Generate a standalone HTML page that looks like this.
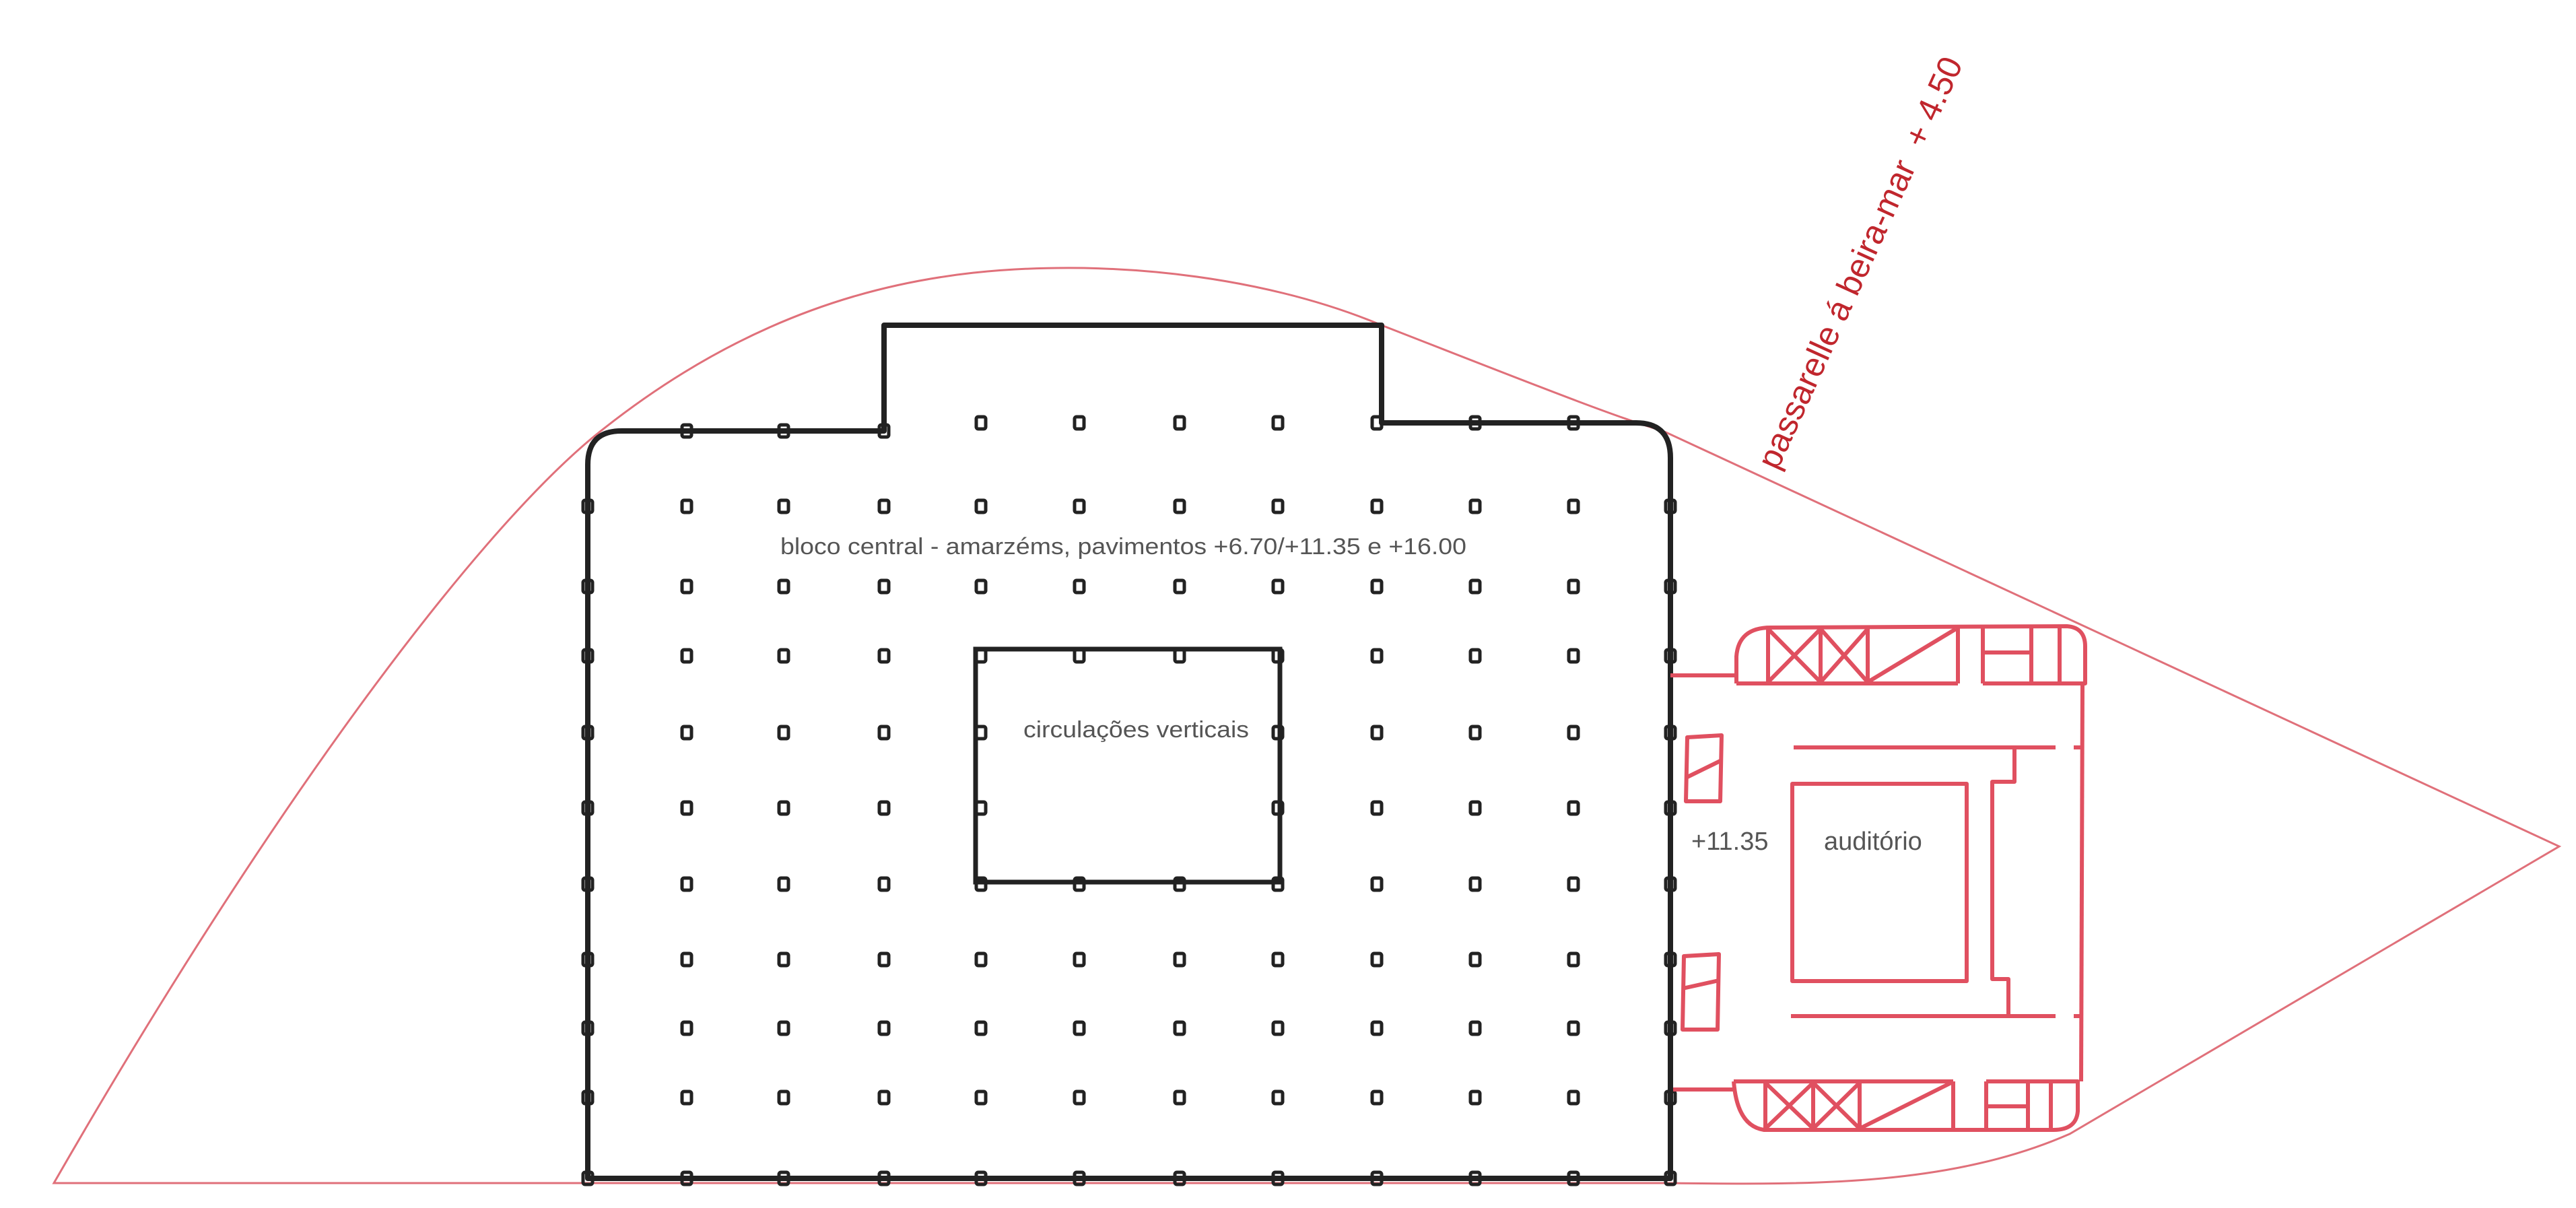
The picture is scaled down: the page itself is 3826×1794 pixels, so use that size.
<!DOCTYPE html>
<html><head><meta charset="utf-8"><style>
html,body{margin:0;padding:0;background:#fff;}
svg{display:block}
</style></head><body>
<svg width="3826" height="1794" viewBox="0 0 3826 1794" xmlns="http://www.w3.org/2000/svg" xmlns:xlink="http://www.w3.org/1999/xlink">
<defs>
<rect id="p" x="-7" y="-9" width="14" height="18" rx="3" fill="none" stroke="#222" stroke-width="5"/>
<g id="rowA">
<use href="#p" x="873"/><use href="#p" x="1020"/><use href="#p" x="1164"/><use href="#p" x="1313"/><use href="#p" x="1457"/><use href="#p" x="1603"/><use href="#p" x="1752"/><use href="#p" x="1898"/><use href="#p" x="2045"/><use href="#p" x="2191"/><use href="#p" x="2337"/><use href="#p" x="2481"/>
</g>
<g id="rowB">
<use href="#p" x="873"/><use href="#p" x="1020"/><use href="#p" x="1164"/><use href="#p" x="1313"/><use href="#p" x="1457"/><use href="#p" x="1898"/><use href="#p" x="2045"/><use href="#p" x="2191"/><use href="#p" x="2337"/><use href="#p" x="2481"/>
</g>
</defs>
<rect width="3826" height="1794" fill="#fff"/>
<!-- red site outline -->
<path d="M80,1757 C400,1200 700,800 880,650 C1150,430 1400,395 1610,398 C1800,402 1950,440 2052,483 C2250,560 2400,620 2470,640 L3801,1257 L3074,1684 C2900,1760 2700,1760 2481,1757 L80,1757 Z" fill="none" stroke="#e0707a" stroke-width="3"/>
<!-- main block -->
<path d="M873,1750 L873,690 Q873,640 923,640 L1313,640 L1313,483 L2052,483 L2052,628 L2430,628 Q2481,628 2481,680 L2481,1750 Z" fill="none" stroke="#222" stroke-width="8" stroke-linejoin="round"/>
<!-- inner core -->
<rect x="1449" y="964" width="452" height="346" fill="none" stroke="#222" stroke-width="7"/>
<!-- columns -->
<g>
<use href="#p" x="1020" y="640"/><use href="#p" x="1164" y="640"/><use href="#p" x="1313" y="640"/><use href="#p" x="1457" y="628"/><use href="#p" x="1603" y="628"/><use href="#p" x="1752" y="628"/><use href="#p" x="1898" y="628"/><use href="#p" x="2045" y="628"/><use href="#p" x="2191" y="628"/><use href="#p" x="2337" y="628"/>
<use href="#rowA" y="752"/><use href="#rowA" y="871"/><use href="#rowA" y="974"/>
<use href="#rowB" y="1088"/><use href="#rowB" y="1200"/>
<use href="#rowA" y="1313"/><use href="#rowA" y="1425"/><use href="#rowA" y="1527"/><use href="#rowA" y="1630"/><use href="#rowA" y="1750"/>
</g>
<!-- auditorium (red) -->
<g fill="none" stroke="#e05060" stroke-width="6" stroke-linejoin="round">
<line x1="2481" y1="1003" x2="2579" y2="1003"/>
<path d="M2579,1015 L2579,975 Q2582,932 2630,932 L3070,930 Q3097,932 3097,960 L3097,1015 L2945,1015 M2908,1015 L2579,1015"/>
<line x1="2626" y1="932" x2="2626" y2="1015"/>
<line x1="2704" y1="932" x2="2704" y2="1015"/>
<line x1="2774" y1="932" x2="2774" y2="1015"/>
<line x1="2626" y1="934" x2="2704" y2="1013"/><line x1="2704" y1="934" x2="2626" y2="1013"/>
<line x1="2704" y1="934" x2="2774" y2="1013"/><line x1="2774" y1="934" x2="2704" y2="1013"/>
<line x1="2774" y1="1013" x2="2905" y2="934"/>
<line x1="2908" y1="932" x2="2908" y2="1015"/>
<line x1="2945" y1="932" x2="2945" y2="1015"/>
<line x1="3017" y1="932" x2="3017" y2="1015"/>
<line x1="2945" y1="969" x2="3017" y2="969"/>
<line x1="3059" y1="932" x2="3059" y2="1015"/>
<line x1="3093" y1="1015" x2="3091" y2="1606"/>
<line x1="2485" y1="1618" x2="2575" y2="1618"/>
<path d="M2575,1606 L2901,1606 M2950,1606 L3086,1606 L3086,1650 Q3084,1678 3050,1678 L2620,1678 Q2580,1672 2575,1606"/>
<line x1="2622" y1="1606" x2="2622" y2="1678"/>
<line x1="2693" y1="1606" x2="2693" y2="1678"/>
<line x1="2762" y1="1606" x2="2762" y2="1678"/>
<line x1="2622" y1="1608" x2="2693" y2="1676"/><line x1="2693" y1="1608" x2="2622" y2="1676"/>
<line x1="2693" y1="1608" x2="2762" y2="1676"/><line x1="2762" y1="1608" x2="2693" y2="1676"/>
<line x1="2762" y1="1676" x2="2898" y2="1608"/>
<line x1="2901" y1="1606" x2="2901" y2="1678"/>
<line x1="2950" y1="1606" x2="2950" y2="1678"/>
<line x1="3012" y1="1606" x2="3012" y2="1678"/>
<line x1="2950" y1="1643" x2="3012" y2="1643"/>
<line x1="3046" y1="1606" x2="3046" y2="1678"/>
<line x1="2664" y1="1110" x2="3053" y2="1110"/>
<line x1="2660" y1="1509" x2="3053" y2="1509"/>
<rect x="2662" y="1164" width="259" height="293"/>
<path d="M2992,1110 L2992,1161 L2959,1161 L2959,1454 L2983,1454 L2983,1509"/>
<line x1="3080" y1="1110" x2="3093" y2="1110"/>
<line x1="3080" y1="1509" x2="3093" y2="1509"/>
<path d="M2506,1095 L2557,1092 L2555,1190 L2504,1190 Z"/>
<line x1="2504" y1="1155" x2="2555" y2="1130"/>
<path d="M2501,1420 L2553,1417 L2551,1529 L2499,1529 Z"/>
<line x1="2499" y1="1468" x2="2553" y2="1456"/>
</g>
<g font-family="'Liberation Sans', sans-serif" fill="#555">
<text x="1159" y="823" font-size="34" textLength="1019" lengthAdjust="spacingAndGlyphs">bloco central - amarzéms, pavimentos +6.70/+11.35 e +16.00</text>
<text x="1520" y="1095" font-size="34" textLength="335" lengthAdjust="spacingAndGlyphs">circulações verticais</text>
<text x="2512" y="1262" font-size="38">+11.35</text>
<text x="2709" y="1262" font-size="38">auditório</text>
</g>
<text transform="translate(2640,700) rotate(-65.5)" font-family="'Liberation Sans', sans-serif" font-size="50" fill="#c0262d" xml:space="preserve">passarelle á beira-mar  + 4.50</text>
</svg>
</body></html>
